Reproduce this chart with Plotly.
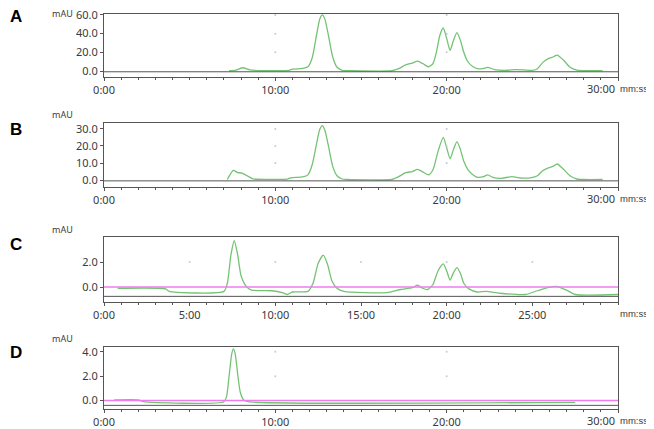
import plotly.graph_objects as go
from plotly.subplots import make_subplots

# retention times (min) and absorbance (mAU)
time_a = [7.3, 7.7, 8.1, 8.5, 9.0, 10.0, 10.8, 11.0, 11.6, 11.9, 12.15, 12.4, 12.6, 12.75, 12.9, 13.1,
          13.35, 13.6, 13.9, 14.5, 16.8, 17.2, 17.6, 18.0, 18.3, 18.6, 18.95, 19.2, 19.4, 19.6, 19.8,
          20.0, 20.2, 20.4, 20.6, 20.8, 21.0, 21.2, 21.5, 21.8, 22.1, 22.4, 22.8, 23.5, 24.0, 24.5,
          25.0, 25.3, 25.6, 25.9, 26.2, 26.45, 26.8, 27.2, 27.6, 28.0, 29.1]
mau_a = [0.3, 1.0, 3.5, 1.2, 0.5, 0.5, 0.8, 2.0, 2.8, 4.5, 14, 38, 56, 60, 55, 38,
         15, 4, 0.8, 0.3, 0.3, 2.5, 6.5, 8.5, 10.5, 8, 4.5, 8, 20, 38, 46,
         35, 22, 33, 41, 33, 20, 11, 5, 2.5, 2.5, 4, 1.5, 0.8, 1.5, 1.2,
         0.8, 2.5, 9, 13, 15, 17, 12, 4, 1, 0.5, 0.5]

time_b = [7.2, 7.35, 7.55, 7.8, 8.05, 8.3, 8.7, 9.5, 10.7, 10.9, 11.6, 11.9, 12.15, 12.4, 12.6, 12.75,
          12.9, 13.1, 13.35, 13.6, 13.9, 14.2, 16.8, 17.2, 17.6, 18.0, 18.3, 18.6, 18.95, 19.2, 19.5,
          19.8, 20.0, 20.2, 20.4, 20.6, 20.8, 21.0, 21.25, 21.55, 21.8, 22.1, 22.4, 22.7, 23.2, 23.8,
          24.3, 24.9, 25.3, 25.6, 25.9, 26.2, 26.45, 26.8, 27.2, 27.6, 28.0, 29.1]
mau_b = [0.3, 3, 5.6, 4.4, 4.1, 2.8, 0.7, 0.4, 0.5, 1.3, 1.8, 3, 9, 21, 30, 32,
         29, 20, 8, 2.5, 0.6, 0.3, 0.3, 2, 4.3, 5, 6.3, 4.8, 3, 6, 17,
         25, 19, 12.5, 18, 22.5, 18, 11, 6, 3, 1.6, 1.8, 3, 1.5, 1.0, 2.0,
         1.2, 1.3, 2.5, 5.5, 7, 8, 9.4, 6.5, 2.5, 0.6, 0.3, 0.3]

time_c = [0.8, 3.6, 3.8, 7.0, 7.2, 7.4, 7.6, 7.8, 8.0, 8.3, 8.6, 9.8, 10.4, 10.7, 11.0, 11.9,
          12.2, 12.5, 12.8, 13.05, 13.3, 13.6, 14.0, 16.5, 17.3, 18.0, 18.3, 18.6, 18.9, 19.2,
          19.5, 19.8, 20.0, 20.2, 20.4, 20.6, 20.8, 21.0, 21.3, 21.8, 22.3, 23.1, 24.6, 25.3,
          25.9, 26.4, 27.0, 27.5, 30.0]
mau_c = [-0.1, -0.15, -0.35, -0.35, 0.3, 2.5, 3.7, 2.6, 0.9, 0.05, -0.25, -0.3, -0.45, -0.6, -0.4, -0.35,
         0.3, 1.9, 2.55, 1.8, 0.5, -0.1, -0.35, -0.45, -0.2, -0.05, 0.15, -0.1, -0.2, 0.2,
         1.3, 1.85, 1.3, 0.55, 1.15, 1.55, 1.1, 0.3, -0.15, -0.4, -0.35, -0.5, -0.6, -0.3,
         -0.05, 0.05, -0.25, -0.6, -0.6]

time_d = [0.6, 2.0, 2.3, 7.0, 7.15, 7.3, 7.45, 7.55, 7.65, 7.8, 7.95, 8.15, 8.4, 27.5]
mau_d = [0.05, 0.05, -0.1, -0.1, 0.3, 2.0, 3.8, 4.25, 3.9, 2.2, 0.7, 0.05, -0.1, -0.15]

# blank run (magenta), panels C and D only
blank_time = [0, 30]
blank_mau = [0, 0]

panels = ['A', 'B', 'C', 'D']
traces = [(time_a, mau_a), (time_b, mau_b), (time_c, mau_c), (time_d, mau_d)]
y_ticks = [[0, 20, 40, 60], [0, 10, 20, 30], [0, 2], [0, 2, 4]]
x_ticks = [[0, 10, 20, 30], [0, 10, 20, 30], [0, 5, 10, 15, 20, 25], [0, 10, 20, 30]]
x_labels = [['0:00', '10:00', '20:00', ''], ['0:00', '10:00', '20:00', ''],
            ['0:00', '5:00', '10:00', '15:00', '20:00', '25:00'], ['0:00', '10:00', '20:00', '']]
has_blank = [False, False, True, True]

# the page body adds an 8px margin, so the figure is made 8px smaller and
# every page position below is shifted by OFF
OFF = 8
W, H = 654 - OFF, 429 - OFF
L = 104 - OFF
PW = 514
R = W - L - PW
tops = [14, 123, 237, 347]
bottoms = [77, 187, 302, 409]
y_ranges = [[-6.4, 61], [-4.1, 33.5], [-1.2, 4.0], [-0.7, 4.4]]
frame_bottom = [-0.8, -0.5, -0.75, -0.4]
letter_y = [17, 129, 244, 352]
mau_y = [5, 115, 229, 338]


def py(page_y):
    return 1 - (page_y - OFF) / H


def px(page_x):
    return (page_x - OFF - L) / PW


GREEN = '#74c374'
MAGENTA = '#ee7cee'
FRAME = '#555555'
TEXT = '#3a3a3a'
FONT = 'Noto Sans'

fig = make_subplots(rows=4, cols=1)

for i in range(4):
    row = i + 1
    t, v = traces[i]
    fig.add_trace(go.Scatter(x=t, y=v, mode='lines', line=dict(color=GREEN, width=1.3, shape='spline', smoothing=0.6),
                             hoverinfo='skip', showlegend=False), row=row, col=1)
    if has_blank[i]:
        fig.add_trace(go.Scatter(x=blank_time, y=blank_mau, mode='lines', line=dict(color=MAGENTA, width=1.4),
                                 hoverinfo='skip', showlegend=False), row=row, col=1)

    # faint grid dots at major tick crossings
    gx, gy = [], []
    for xv in x_ticks[i]:
        if 0 < xv < 30:
            for yv in y_ticks[i]:
                if yv > 0:
                    gx.append(xv)
                    gy.append(yv)
    fig.add_trace(go.Scatter(x=gx, y=gy, mode='markers', marker=dict(size=2, color='#c4c8dc'),
                             hoverinfo='skip', showlegend=False), row=row, col=1)

    fig.add_hline(y=frame_bottom[i], line=dict(color=FRAME, width=1), row=row, col=1)

    dom = [py(bottoms[i]), py(tops[i])]
    fig.update_xaxes(range=[0, 30], domain=[0, 1], showline=True, linecolor=FRAME, linewidth=1, mirror=True,
                     ticks='outside', ticklen=3, tickcolor=FRAME, tickwidth=1,
                     tickvals=x_ticks[i], ticktext=x_labels[i], automargin=False, ticklabeloverflow='allow',
                     minor=dict(dtick=1, ticks='outside', ticklen=2, tickcolor=FRAME, showgrid=False),
                     showgrid=False, zeroline=False, tickfont=dict(size=11, color=TEXT, family=FONT),
                     row=row, col=1)
    fig.update_yaxes(range=y_ranges[i], domain=dom, showline=True, linecolor=FRAME, linewidth=1, mirror=True,
                     ticks='outside', ticklen=3, tickcolor=FRAME, automargin=False, ticklabeloverflow='allow',
                     tickvals=y_ticks[i], ticktext=['%.1f' % v for v in y_ticks[i]],
                     showgrid=False, zeroline=False, tickfont=dict(size=11, color=TEXT, family=FONT),
                     row=row, col=1)

    xref = 'x' if i == 0 else 'x%d' % row
    ybot = dom[0]
    if x_labels[i][-1] == '':
        fig.add_annotation(x=30, xref=xref, y=ybot, yref='paper', yshift=-11, text='30:00',
                           showarrow=False, xanchor='right', yanchor='middle', xshift=-1,
                           font=dict(size=11, color=TEXT, family=FONT))
    fig.add_annotation(x=30, xref=xref, y=ybot, yref='paper', yshift=-11, text='mm:ss',
                       showarrow=False, xanchor='left', yanchor='middle', xshift=0,
                       font=dict(size=9.5, color=TEXT, family='Liberation Sans'))
    fig.add_annotation(x=px(62), xref='paper', y=min(py(mau_y[i]), 1 - 5 / H), yref='paper',
                       text='mAU', showarrow=False, xanchor='center', yanchor='middle',
                       font=dict(size=9, color=TEXT, family=FONT))
    fig.add_annotation(x=px(OFF), xref='paper', y=py(letter_y[i]), yref='paper',
                       text='<b>%s</b>' % panels[i], showarrow=False, xanchor='left', yanchor='middle',
                       font=dict(size=17, color='black', family='Liberation Sans'))

fig.update_layout(width=W, height=H, margin=dict(l=L, r=R, t=0, b=0),
                  paper_bgcolor='white', plot_bgcolor='white', showlegend=False)

fig.write_html("out.html")
